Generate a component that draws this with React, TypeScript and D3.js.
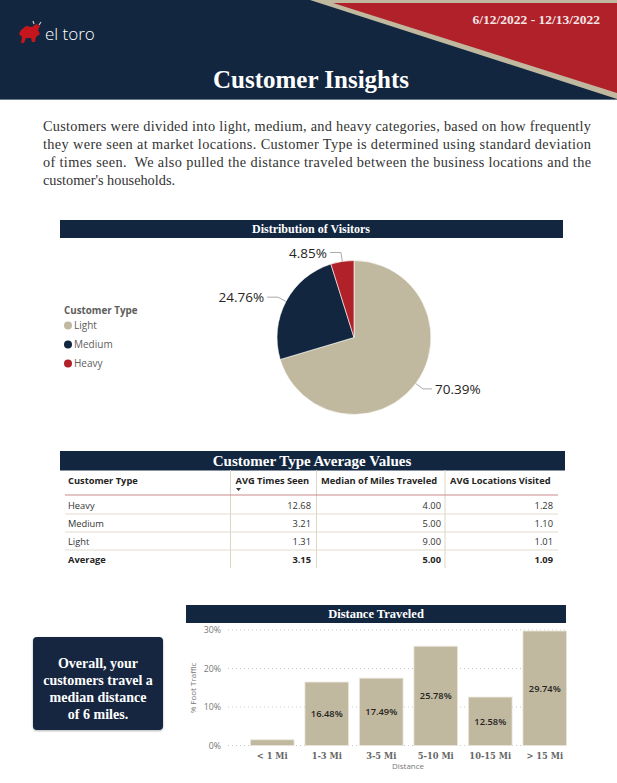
import React from 'react';
import * as d3 from 'd3';

// pie data
const customerTypes = ['Light', 'Medium', 'Heavy'];
const visitorShares = [70.39, 24.76, 4.85];

// table data
const tableColumns = ['Customer Type', 'AVG Times Seen', 'Median of Miles Traveled', 'AVG Locations Visited'];
const tableRowTypes = ['Heavy', 'Medium', 'Light'];
const avgTimesSeen = [12.68, 3.21, 1.31];
const medianMiles = [4.0, 5.0, 9.0];
const avgLocations = [1.28, 1.1, 1.01];
const averageRow = [3.15, 5.0, 1.09];

// bar data
const distanceBands = ['< 1 Mi', '1-3 Mi', '3-5 Mi', '5-10 Mi', '10-15 Mi', '> 15 Mi'];
const footTraffic = [1.48, 16.48, 17.49, 25.78, 12.58, 29.74];
const yTicks = [0, 10, 20, 30];

const paragraph = [
  'Customers were divided into light, medium, and heavy categories, based on how frequently',
  'they were seen at market locations. Customer Type is determined using standard deviation',
  'of times seen.  We also pulled the distance traveled between the business locations and the',
  "customer's households.",
];
const calloutLines = ['Overall, your', 'customers travel a', 'median distance', 'of 6 miles.'];

const NAVY = '#12263f';
const RED = '#b0212a';
const BEIGE = '#c1b99f';
const SERIF = '"Liberation Serif", "DejaVu Serif", serif';
const SANS = '"Open Sans", "Noto Sans", sans-serif';

const colors = d3.scaleOrdinal<string, string>().domain(customerTypes).range([BEIGE, NAVY, RED]);

const App: React.FC = () => {
  // pie
  const cx = 354, cy = 337.5, r = 77;
  const pieData = d3.pie<number>().sort(null).value(d => d)(visitorShares);
  const arc = d3.arc<d3.PieArcDatum<number>>().innerRadius(0).outerRadius(r);

  // bars
  const x = d3.scaleBand().domain(distanceBands).range([245, 572]).paddingInner(0.2).paddingOuter(0.1);
  const y = d3.scaleLinear().domain([0, 30]).range([745.5, 630]);

  const fmt2 = d3.format('.2f');
  const colRight = [0, 311, 441, 553];
  const TFS = 9.3;

  return (
    <svg width={617} height={783} style={{ position: 'absolute', left: 0, top: 0, display: 'block' }}>
      <rect width={617} height={783} fill="#fff" />

      {/* header */}
      <rect x={0} y={0} width={617} height={99} fill={NAVY} />
      <line x1={0} x2={617} y1={99.5} y2={99.5} stroke="#6b7a89" />
      <polygon points="310,0 617,0 617,99" fill={BEIGE} />
      <polygon points="333,3 617,3 617,93" fill={RED} />
      <text x={600} y={24} textAnchor="end" fill="#f4e6e6" fontFamily={SERIF} fontWeight="bold" fontSize={13.5}>
        6/12/2022 - 12/13/2022
      </text>
      {/* logo */}
      <g transform="translate(18,22)">
        <path d="M3,8 L8,4 L14,5 L18,2 L22,4 L20,8 L22,12 L18,15 L17,20 L14,20 L13,16 L8,16 L6,21 L3,21 L4,15 L1,12 Z" fill="#c4161c" />
        <path d="M16,2 L15,-1 M21,3 L23,0" stroke="#ccc" strokeWidth={1.2} />
      </g>
      <text x={45} y={40} fill="#fff" fontFamily={SANS} fontSize={17} fontWeight={300}>el toro</text>
      <text x={311} y={88} textAnchor="middle" fill="#fff" fontFamily={SERIF} fontWeight="bold" fontSize={25}>
        Customer Insights
      </text>

      {/* paragraph */}
      {paragraph.map((line, i) => (
        <text key={i} x={43} y={131 + i * 18} fill="#333" fontFamily={SERIF} fontSize={14.3}
          textLength={i < 3 ? 548 : undefined} lengthAdjust="spacing" xmlSpace="preserve">
          {line}
        </text>
      ))}

      {/* pie section */}
      <rect x={60} y={220} width={503} height={18} fill={NAVY} />
      <text x={311} y={233} textAnchor="middle" fill="#fff" fontFamily={SERIF} fontWeight="bold" fontSize={12}>
        Distribution of Visitors
      </text>
      <g transform={`translate(${cx},${cy})`}>
        {pieData.map((d, i) => (
          <path key={i} d={arc(d) || ''} fill={colors(customerTypes[i])} stroke="#fff" strokeWidth={0.6} />
        ))}
        {pieData.map((d, i) => {
          const a = (d.startAngle + d.endAngle) / 2;
          const p1 = [Math.sin(a) * r, -Math.cos(a) * r];
          const p2 = [Math.sin(a) * (r + 9), -Math.cos(a) * (r + 9)];
          const right = Math.sin(a) > 0;
          const p3 = [p2[0] + (right ? 9 : -11), p2[1]];
          return (
            <g key={i}>
              <polyline points={[p1, p2, p3].map(p => p.join(',')).join(' ')} fill="none" stroke="#aaa" strokeWidth={1} />
              <text x={p3[0] + (right ? 3 : -3)} y={p3[1] + 5} textAnchor={right ? 'start' : 'end'}
                fill="#252423" fontFamily={SANS} fontSize={13.5}>
                {fmt2(visitorShares[i])}%
              </text>
            </g>
          );
        })}
      </g>
      <text x={64} y={314} fill="#605e5c" fontFamily={SANS} fontWeight="bold" fontSize={9.8}>Customer Type</text>
      {customerTypes.map((t, i) => (
        <g key={t}>
          <circle cx={68} cy={325.5 + i * 19} r={4} fill={colors(t)} />
          <text x={74} y={329 + i * 19} fill="#605e5c" fontFamily={SANS} fontSize={10}>{t}</text>
        </g>
      ))}

      {/* table */}
      <rect x={60} y={451} width={505} height={19.5} fill={NAVY} />
      <text x={312} y={466} textAnchor="middle" fill="#fff" fontFamily={SERIF} fontWeight="bold" fontSize={15}>
        Customer Type Average Values
      </text>
      {[230.5, 316.5, 445].map(xv => (
        <line key={xv} x1={xv} x2={xv} y1={470} y2={568} stroke="#ddd6c6" strokeWidth={1} />
      ))}
      <line x1={65} x2={558} y1={495} y2={495} stroke="#c98a8d" strokeWidth={1} />
      {[514, 532, 550].map(yv => (
        <line key={yv} x1={65} x2={558} y1={yv} y2={yv} stroke="#e2dccd" strokeWidth={1} />
      ))}
      {tableColumns.map((c, i) => (
        <text key={c} x={[68, 235.5, 321, 450][i]} y={484} fill="#252423" fontFamily={SANS} fontWeight="bold" fontSize={TFS}>
          {c}
        </text>
      ))}
      <path d="M236,488 L241,488 L238.5,491 Z" fill="#333" />
      {tableRowTypes.map((t, i) => {
        const vals = [avgTimesSeen[i], medianMiles[i], avgLocations[i]];
        const yy = 508.5 + i * 18;
        return (
          <g key={t}>
            <text x={68} y={yy} fill="#333" fontFamily={SANS} fontSize={TFS}>{t}</text>
            {vals.map((v, j) => (
              <text key={j} x={colRight[j + 1]} y={yy} textAnchor="end" fill="#333" fontFamily={SANS} fontSize={TFS}>
                {fmt2(v)}
              </text>
            ))}
          </g>
        );
      })}
      <text x={68} y={562.5} fill="#252423" fontFamily={SANS} fontWeight="bold" fontSize={TFS}>Average</text>
      {averageRow.map((v, j) => (
        <text key={j} x={colRight[j + 1]} y={562.5} textAnchor="end" fill="#252423" fontFamily={SANS} fontWeight="bold" fontSize={TFS}>
          {fmt2(v)}
        </text>
      ))}

      {/* callout box */}
      <defs>
        <filter id="shadow" x="-10%" y="-10%" width="120%" height="130%">
          <feDropShadow dx={0} dy={1} stdDeviation={1.2} floodColor="#000" floodOpacity={0.3} />
        </filter>
      </defs>
      <rect x={33} y={637} width={130} height={93} rx={4} fill={NAVY} filter="url(#shadow)" />
      {calloutLines.map((l, i) => (
        <text key={i} x={98} y={668 + i * 17} textAnchor="middle" fill="#fff" fontFamily={SERIF} fontWeight="bold" fontSize={14}>
          {l}
        </text>
      ))}

      {/* bar chart */}
      <rect x={186} y={605} width={380} height={18} fill={NAVY} />
      <text x={376} y={618} textAnchor="middle" fill="#fff" fontFamily={SERIF} fontWeight="bold" fontSize={12.5}>
        Distance Traveled
      </text>
      {yTicks.map(t => (
        <g key={t}>
          <line x1={228} x2={566} y1={y(t)} y2={y(t)} stroke="#c8c8c8" strokeDasharray="1,3" />
          <text x={221} y={y(t) + 3} textAnchor="end" fill="#777" fontFamily={SANS} fontSize={8.8}>{t}%</text>
        </g>
      ))}
      {distanceBands.map((b, i) => {
        const bx = x(b) as number;
        const top = y(footTraffic[i]);
        const h = y(0) - top;
        return (
          <g key={b}>
            <rect x={bx} y={top} width={x.bandwidth()} height={h} fill={BEIGE} stroke="#e9e5da" strokeWidth={0.8} />
            {h > 20 && (
              <text x={bx + x.bandwidth() / 2} y={top + h / 2 + 3.5} textAnchor="middle" fill="#252423"
                fontFamily={SANS} fontWeight={600} fontSize={9.3}>
                {fmt2(footTraffic[i])}%
              </text>
            )}
            <text x={bx + x.bandwidth() / 2} y={759} textAnchor="middle" fill="#666" fontFamily='"DejaVu Serif", serif'
              fontSize={8.3} fontWeight="bold">
              {b}
            </text>
          </g>
        );
      })}
      <text x={408} y={768.5} textAnchor="middle" fill="#777" fontFamily={SANS} fontSize={8}>Distance</text>
      <text transform="translate(196,688) rotate(-90)" textAnchor="middle" fill="#777" fontFamily={SANS} fontSize={8}>
        % Foot Traffic
      </text>
    </svg>
  );
};

export default App;
